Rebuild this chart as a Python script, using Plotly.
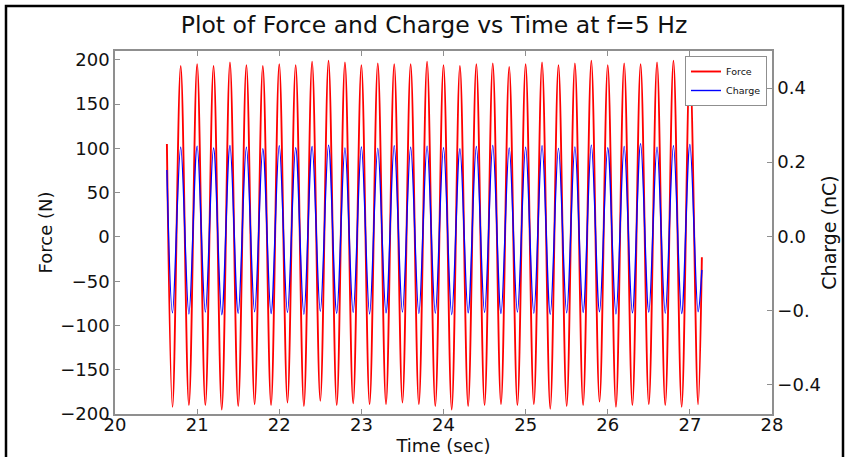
import plotly.graph_objects as go

# Turning points of the 5 Hz force / charge record (seconds)
t_start = 20.632
t_end = 27.146
t_troughs = [20.7, 20.9, 21.1, 21.3, 21.5, 21.7, 21.9, 22.1, 22.3, 22.5, 22.7,
             22.9, 23.1, 23.3, 23.5, 23.7, 23.9, 24.1, 24.3, 24.5, 24.7, 24.9,
             25.1, 25.3, 25.5, 25.7, 25.9, 26.1, 26.3, 26.5, 26.7, 26.9, 27.1]
t_peaks = [20.8, 21.0, 21.2, 21.4, 21.6, 21.8, 22.0, 22.2, 22.4, 22.6, 22.8,
           23.0, 23.2, 23.4, 23.6, 23.8, 24.0, 24.2, 24.4, 24.6, 24.8, 25.0,
           25.2, 25.4, 25.6, 25.8, 26.0, 26.2, 26.4, 26.6, 26.8, 27.0]

# Force (N)
force_start = 105
force_end = -23
force_troughs = [-192, -190, -190, -195, -191, -189, -190, -187, -191, -185, -190,
                 -188, -189, -189, -187, -189, -191, -195, -191, -190, -189, -190,
                 -189, -194, -191, -190, -186, -192, -190, -189, -190, -192, -189]
force_peaks = [193, 195, 193, 197, 194, 193, 195, 194, 198, 199, 197,
               194, 196, 195, 195, 198, 194, 193, 195, 196, 192, 195,
               197, 194, 196, 199, 194, 196, 195, 197, 199, 196]

# Charge (nC)
charge_start = 0.179
charge_end = -0.091
charge_troughs = [-0.207, -0.210, -0.205, -0.212, -0.208, -0.204, -0.209, -0.206,
                  -0.211, -0.203, -0.208, -0.206, -0.210, -0.207, -0.205, -0.209,
                  -0.208, -0.212, -0.207, -0.206, -0.209, -0.205, -0.208, -0.211,
                  -0.207, -0.206, -0.204, -0.210, -0.207, -0.205, -0.208, -0.209,
                  -0.204]
charge_peaks = [0.240, 0.243, 0.238, 0.245, 0.240, 0.236, 0.244, 0.239, 0.242,
                0.246, 0.238, 0.241, 0.237, 0.244, 0.240, 0.243, 0.239, 0.236,
                0.242, 0.245, 0.238, 0.240, 0.244, 0.237, 0.241, 0.246, 0.239,
                0.242, 0.250, 0.240, 0.244, 0.248]

x_ticks = [20, 21, 22, 23, 24, 25, 26, 27, 28]
force_ticks = [-200, -150, -100, -50, 0, 50, 100, 150, 200]
charge_ticks = [-0.4, -0.2, 0.0, 0.2, 0.4]
charge_tick_text = ["\u22120.4", "\u22120.", "0.0", "0.2", "0.4"]


def interleave(start, troughs, peaks, end):
    seq = [start]
    for i, tr in enumerate(troughs):
        seq.append(tr)
        if i < len(peaks):
            seq.append(peaks[i])
    seq.append(end)
    return seq


time = interleave(t_start, t_troughs, t_peaks, t_end)
force = interleave(force_start, force_troughs, force_peaks, force_end)
charge = interleave(charge_start, charge_troughs, charge_peaks, charge_end)

FONT = "DejaVu Sans"
AXIS_GREY = "#8f8f8f"

fig = go.Figure()
fig.add_trace(go.Scatter(
    x=time, y=force, name="Force", mode="lines",
    line=dict(color="#ff0000", width=1.9, shape="spline", smoothing=1.0),
))
fig.add_trace(go.Scatter(
    x=time, y=charge, name="Charge", mode="lines", yaxis="y2",
    line=dict(color="#0000ff", width=1.4, shape="spline", smoothing=1.0),
))

W, H = 846, 457
L, R, T, B = 115, 74, 51, 43
pw, ph = W - L - R, H - T - B


def px_x(p):
    return (p - L) / pw


def px_y(p):
    return (H - B - p) / ph


axis_common = dict(
    showgrid=False, zeroline=False, showline=True, linecolor=AXIS_GREY,
    linewidth=1.5, ticks="inside", ticklen=5, tickcolor=AXIS_GREY,
    tickwidth=1, tickfont=dict(family=FONT, size=18, color="#111111"),
)

fig.update_layout(
    width=W, height=H,
    margin=dict(l=L, r=R, t=T, b=B, autoexpand=False),
    paper_bgcolor="white", plot_bgcolor="white",
    font=dict(family=FONT, color="#111111"),
    title=dict(
        text="Plot of Force and Charge vs Time at f=5 Hz",
        font=dict(family=FONT, size=23.5, color="#111111"),
        x=px_x(434), xref="paper", xanchor="center",
        y=1 - 25 / H, yref="container", yanchor="middle",
    ),
    xaxis=dict(
        range=[20, 28], tickvals=x_ticks, mirror="ticks",
        ticklabelstandoff=-6,
        title=dict(text="Time (sec)", font=dict(family=FONT, size=18), standoff=0),
        **axis_common,
    ),
    yaxis=dict(
        range=[-200, 210], tickvals=force_ticks,
        ticktext=[("\u2212" + str(-v)) if v < 0 else str(v) for v in force_ticks],
        title=dict(text="Force (N)", font=dict(family=FONT, size=18), standoff=3),
        **axis_common,
    ),
    yaxis2=dict(
        range=[-0.48, 0.5], tickvals=charge_ticks, ticktext=charge_tick_text,
        overlaying="y", side="right",
        title=dict(text="Charge (nC)", font=dict(family=FONT, size=19), standoff=3),
        **axis_common,
    ),
    legend=dict(
        x=px_x(767), y=px_y(56), xanchor="right", yanchor="top",
        bgcolor="white", bordercolor=AXIS_GREY, borderwidth=1,
        font=dict(family=FONT, size=9.5, color="#111111"),
        itemwidth=30, tracegroupgap=0,
    ),
    showlegend=True,
)

# Outer black frame around the figure
fig.add_shape(
    type="rect", xref="paper", yref="paper",
    x0=px_x(6), x1=px_x(843), y0=px_y(470), y1=px_y(6),
    line=dict(color="black", width=2.5), fillcolor="rgba(0,0,0,0)", layer="above",
)

fig.write_html("out.html")
